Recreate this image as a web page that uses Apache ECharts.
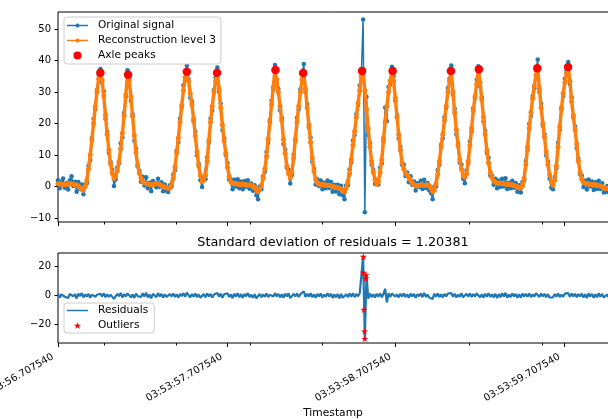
<!DOCTYPE html>
<html><head><meta charset="utf-8">
<script src="https://cdn.jsdelivr.net/npm/echarts@6/dist/echarts.min.js"></script>
<style>html,body{margin:0;padding:0;background:#fff}#c{width:608px;height:419px}</style>
</head><body><div id="c"></div>
<script>
// sample spacing (seconds)
const DT = 0.01004;

const original = [
2.0,-0.6,1.5,2.5,-0.4,1.0,-1.0,2.0,3.2,0.1,
1.5,-1.7,1.4,-0.8,0.6,-2.5,0.6,1.0,6.6,8.4,
15.4,21.5,24.4,30.6,35.5,37.3,33.0,30.2,21.5,17.4,
10.6,7.8,5.4,0.1,2.2,6.0,7.3,13.7,15.6,23.4,
28.4,36.9,34.8,27.2,23.0,14.5,12.0,6.3,5.0,1.5,
3.1,0.3,2.9,-0.6,1.2,-1.5,1.7,1.2,-0.3,2.4,
-0.1,1.3,-1.5,0.6,-1.4,-1.8,0.4,0.0,3.8,5.1,
11.4,14.0,21.6,25.2,32.1,33.7,38.3,34.1,28.2,27.0,
20.7,17.4,9.9,7.2,2.0,-0.2,2.9,2.3,9.3,13.9,
21.6,24.1,30.6,34.7,37.8,30.1,26.3,17.9,15.3,10.0,
7.4,2.2,2.2,-0.9,2.1,0.0,2.3,-0.6,1.6,-0.9,
1.7,-0.1,2.0,-0.7,0.9,-1.4,0.4,-2.8,-4.1,0.0,
-0.9,3.2,4.6,10.9,13.9,21.1,27.2,30.7,38.6,33.3,
31.0,24.2,21.8,13.5,11.7,5.9,5.4,0.9,3.6,10.1,
14.3,21.8,24.4,30.9,35.6,38.9,30.0,26.2,18.7,15.5,
7.8,5.6,0.6,2.3,0.1,1.9,-0.9,1.2,-0.6,1.9,
-0.5,1.4,-1.7,0.5,-1.6,0.5,-2.5,0.2,-2.8,-4.1,
0.3,0.4,5.4,7.6,14.6,16.3,23.0,25.9,32.0,36.8,
53.0,-8.2,28.5,16.3,13.8,6.9,5.3,0.8,1.9,0.6,
5.9,7.3,15.4,25.1,20.7,31.6,32.5,38.0,35.0,27.2,
22.7,15.2,12.6,6.9,6.9,3.3,4.4,1.3,3.2,0.5,
1.6,-1.3,1.0,-0.2,1.8,-0.8,2.1,-0.5,1.1,-1.2,
-2.1,-4.1,0.0,0.0,5.2,6.9,13.2,15.2,22.0,24.9,
31.3,34.3,38.4,29.1,24.7,16.6,13.6,7.5,7.0,2.4,
1.0,5.1,7.3,14.3,17.4,24.9,27.9,33.9,38.2,31.8,
28.3,20.6,17.7,10.6,9.1,3.5,3.5,0.5,2.4,-0.6,
1.9,-0.1,2.4,0.0,2.6,-0.8,1.2,-0.6,1.8,-0.4,
1.1,-1.7,0.4,-1.9,1.4,1.9,8.1,11.6,19.9,22.4,
28.7,31.2,37.0,40.3,30.0,26.3,19.3,16.6,9.8,7.9,
2.4,-0.4,-0.9,3.0,5.7,13.9,17.9,25.1,28.6,34.2,
36.8,39.5,32.5,28.3,21.9,19.1,12.2,8.9,3.8,3.4,
-0.2,1.9,-1.0,2.2,0.0,1.6,-1.1,1.3,-0.8,1.8,
-0.8,1.0,-1.9,-1.7,0.1,-1.9,0.7,-1.4,0.4
];

const reconstruction = [
0.8,0.9,0.7,0.6,0.5,0.6,0.8,0.9,0.8,0.7,
0.6,0.4,0.1,-0.4,-1.0,-1.2,-0.1,1.8,5.5,10.0,
14.8,20.1,25.3,30.1,34.2,36.1,33.7,28.7,22.7,16.6,
11.6,7.2,4.2,2.5,3.3,5.0,7.8,12.0,17.0,22.5,
29.0,35.5,33.8,28.5,22.3,16.2,10.8,6.8,4.2,2.6,
1.6,1.1,1.0,0.8,0.6,0.5,0.6,0.8,0.9,0.8,
0.6,0.3,0.0,-0.2,-0.4,-0.6,-0.5,0.6,2.5,6.1,
10.6,15.4,20.5,25.7,30.5,34.6,36.4,33.5,29.5,26.0,
21.5,16.0,11.0,6.5,3.5,1.6,2.0,3.5,8.0,14.5,
20.5,25.5,30.0,33.5,36.1,31.0,25.0,19.5,14.5,10.5,
6.0,3.2,1.5,1.0,0.9,0.8,0.8,0.7,0.7,0.8,
0.6,0.5,0.4,0.5,0.4,0.1,-0.4,-0.9,-1.7,-1.0,
0.3,2.5,5.5,9.5,15.0,20.5,26.0,31.5,37.0,34.0,
30.0,25.5,21.0,15.0,10.5,6.5,4.0,2.7,4.5,9.0,
15.0,20.5,25.5,30.0,34.0,36.0,31.0,25.0,19.5,14.0,
9.0,4.8,2.2,1.2,0.8,0.6,0.5,0.6,0.4,0.4,
0.3,0.2,0.0,-0.2,-0.3,-0.4,-0.6,-0.8,-1.2,-1.8,
-0.5,1.5,4.0,8.5,13.0,17.5,22.0,26.5,30.5,35.0,
36.7,30.5,24.5,18.5,12.5,8.0,4.5,2.2,0.7,1.5,
4.5,8.5,14.5,20.5,25.5,30.0,33.5,36.7,33.5,28.0,
22.0,16.5,11.5,7.5,5.5,4.3,3.6,2.8,2.0,1.2,
0.6,0.3,0.1,0.3,0.5,0.4,0.3,0.4,0.5,0.2,
-0.6,-1.6,-1.2,0.8,3.8,8.0,12.5,16.5,21.0,25.5,
30.0,33.5,36.7,30.0,23.5,18.0,13.0,8.5,5.5,3.6,
2.9,4.0,8.0,13.0,18.5,24.0,28.5,32.5,37.2,33.0,
27.5,22.0,16.5,11.5,7.5,4.5,2.8,1.8,1.3,1.1,
1.0,1.1,0.9,0.8,0.8,0.7,0.6,0.5,0.5,0.3,
0.1,-0.1,-0.4,-0.5,0.2,2.5,7.0,12.5,18.5,23.5,
28.0,32.0,35.5,37.5,31.0,25.0,20.0,15.5,11.0,7.0,
3.8,1.5,0.4,2.0,6.5,12.5,19.0,24.5,29.5,33.0,
36.0,37.9,33.5,27.0,22.5,18.0,13.5,8.0,4.5,2.2,
1.3,1.0,0.8,0.8,0.7,0.6,0.5,0.5,0.4,0.3,
0.1,-0.1,-0.5,-0.7,-0.6,-0.4,-0.5,-0.6,-0.5
];

const residuals = [
1.2,-1.5,0.8,1.9,-0.9,0.4,-1.8,1.1,2.4,-0.6,
0.9,-2.1,1.3,-0.4,1.6,-1.3,0.7,-0.8,1.1,-1.6,
0.6,1.4,-0.9,0.5,1.3,1.2,-0.7,1.5,-1.2,0.8,
-1.0,0.6,1.2,-2.4,-1.1,1.0,-0.5,1.7,-1.4,0.9,
-0.6,1.4,1.0,-1.3,0.7,-1.7,1.2,-0.5,0.8,-1.1,
1.5,-0.8,1.9,-1.4,0.6,-2.0,1.1,0.4,-1.2,1.6,
-0.7,1.0,-1.5,0.8,-1.0,-1.2,0.9,-0.6,1.3,-1.0,
0.8,-1.4,1.1,-0.5,1.6,-0.9,1.9,0.6,-1.3,1.0,
-0.8,1.4,-1.1,0.7,-1.5,-1.8,0.9,-1.2,1.3,-0.6,
1.1,-1.4,0.6,1.2,1.7,-0.9,1.3,-1.6,0.8,-0.5,
1.4,-1.0,0.7,-1.9,1.2,-0.8,1.5,-1.3,0.9,-1.7,
1.1,-0.6,1.6,-1.2,0.5,-1.5,0.8,-1.9,-2.4,1.0,
-1.2,0.7,-0.9,1.4,-1.1,0.6,1.2,-0.8,1.6,-0.7,
1.0,-1.3,0.8,-1.5,1.2,-0.6,1.4,-1.8,-0.9,1.1,
-0.7,1.3,-1.1,0.9,1.6,2.9,-1.0,1.2,-0.8,1.5,
-1.2,0.8,-1.6,1.1,-0.7,1.3,-1.4,0.6,-1.0,1.5,
-0.8,1.2,-1.7,0.7,-1.3,0.9,-1.9,1.0,-1.6,-2.3,
0.8,-1.1,1.4,-0.9,1.6,-1.2,1.0,-0.6,1.5,1.8,
26.6,-29.7,14.0,-2.2,1.3,-1.1,0.8,-1.4,1.2,-0.9,
1.4,-1.2,0.9,4.6,-4.8,1.6,-1.0,1.3,1.5,-0.8,
0.7,-1.3,1.1,-0.6,1.4,-1.0,0.8,-1.5,1.2,-0.7,
1.0,-1.6,0.9,-0.5,1.3,-1.2,1.8,-0.9,0.6,-1.4,
-1.5,-2.5,1.2,-0.8,1.4,-1.1,0.7,-1.3,1.0,-0.6,
1.3,0.8,1.7,-0.9,1.2,-1.4,0.6,-1.0,1.5,-1.2,
-1.9,1.1,-0.7,1.3,-1.1,0.9,-0.6,1.4,1.0,-1.2,
0.8,-1.4,1.2,-0.9,1.6,-1.0,0.7,-1.3,1.1,-1.7,
0.9,-1.2,1.5,-0.8,1.8,-1.5,0.6,-1.1,1.3,-0.7,
1.0,-1.6,0.8,-1.4,1.2,-0.6,1.1,-0.9,1.4,-1.1,
0.7,-0.8,1.5,2.8,-1.0,1.3,-0.7,1.1,-1.2,0.9,
-1.4,-1.9,-1.3,1.0,-0.8,1.4,-1.1,0.6,-0.9,1.2,
0.8,1.6,-1.0,1.3,-0.6,1.1,-1.3,0.9,-0.7,1.2,
-1.5,0.9,-1.8,1.4,-0.7,1.0,-1.6,0.8,-1.2,1.5,
-0.9,1.1,-1.4,-1.0,0.7,-1.5,1.2,-0.8,0.9
];

const peakTimes  = [0.251, 0.415, 0.763, 0.942, 1.288, 1.452, 1.801, 1.982, 2.327, 2.493, 2.839, 3.021];
const peakValues = [36.1, 35.5, 36.4, 36.1, 37.0, 36.0, 36.7, 36.7, 36.7, 37.2, 37.5, 37.9];

const outlierTimes  = [1.808, 1.809, 1.825, 1.824, 1.812, 1.816, 1.817];
const outlierValues = [26.6, 15.6, 14.0, 11.7, -9.7, -24.6, -29.7];

const xTickValues = [0, 1, 2, 3];
const xTickLabels = ['03:53:56.707540', '03:53:57.707540', '03:53:58.707540', '03:53:59.707540'];
const xMinorTicks = [0.271, 0.702, 1.136, 1.567, 2.434, 2.866];
const topYTicks = [-10, 0, 10, 20, 30, 40, 50];
const bottomYTicks = [-20, 0, 20];

const XMAX = (original.length - 1) * DT;
const pairs = arr => arr.map((v, i) => [i * DT, v]);
const zip = (a, b) => a.map((v, i) => [v, b[i]]);
const minus = v => String(v).replace('-', '\u2212');
const FONT = 'DejaVu Sans';
const STAR = 'path://M0,-1L0.2245,-0.309L0.951,-0.309L0.363,0.118L0.588,0.809L0,0.382L-0.588,0.809L-0.363,0.118L-0.951,-0.309L-0.2245,-0.309Z';
const LINE_DOT = 'path://M0,3.75H21V5.25H0Z M9.7,2.6H11.3L12.4,3.7V5.3L11.3,6.4H9.7L8.6,5.3V3.7Z';
const LINE_ONLY = 'path://M0,3.75H21V5.25H0Z';

function xAx(grid, ticks, len, withLabels) {
  return {
    type: 'value', gridIndex: grid, min: 0, max: XMAX, position: 'bottom',
    axisLine: { show: false, onZero: false }, splitLine: { show: false },
    axisTick: { show: true, customValues: ticks, length: len, lineStyle: { color: '#000', width: 1 } },
    axisLabel: withLabels ? {
      show: true, customValues: xTickValues, showMinLabel: true, showMaxLabel: true,
      formatter: v => xTickLabels[xTickValues.indexOf(Math.round(v))],
      rotate: 30, align: 'right', verticalAlign: 'bottom', margin: 16,
      fontSize: 10, color: '#000', fontFamily: FONT, padding: [0, 3, 0, 0]
    } : { show: false }
  };
}
function yAx(grid, min, max, ticks) {
  return {
    type: 'value', gridIndex: grid, min: min, max: max,
    axisLine: { show: false, onZero: false }, splitLine: { show: false },
    axisTick: { show: true, customValues: ticks, length: 3.5, lineStyle: { color: '#000', width: 1 } },
    axisLabel: { customValues: ticks, formatter: minus, margin: 7, fontSize: 10, color: '#000', fontFamily: FONT }
  };
}

const chart = echarts.init(document.getElementById('c'), null, { renderer: 'canvas' });
chart.setOption({
  animation: false,
  textStyle: { fontFamily: FONT },
  grid: [
    { left: 58, top: 12, width: 556, height: 210, show: true, borderColor: '#000', borderWidth: 1, backgroundColor: 'transparent', containLabel: false, outerBoundsMode: 'none' },
    { left: 58, top: 253, width: 556, height: 90, show: true, borderColor: '#000', borderWidth: 1, backgroundColor: 'transparent', containLabel: false, outerBoundsMode: 'none' }
  ],
  xAxis: [
    xAx(0, xTickValues, 4, false),
    xAx(0, xMinorTicks, 2.5, false),
    xAx(1, xTickValues, 4, true),
    xAx(1, xMinorTicks, 2.5, false)
  ],
  yAxis: [
    yAx(0, -11.3, 55.4, topYTicks),
    yAx(1, -32.6, 29.1, bottomYTicks)
  ],
  legend: [
    {
      data: [
        { name: 'Original signal', icon: LINE_DOT },
        { name: 'Reconstruction level 3', icon: LINE_DOT },
        { name: 'Axle peaks', icon: 'circle' }
      ],
      orient: 'vertical', left: 64, top: 17, itemWidth: 21, itemHeight: 8, itemGap: 4,
      padding: [3, 5, 3, 3], backgroundColor: 'rgba(255,255,255,0.8)', borderColor: '#cccccc',
      borderWidth: 1, borderRadius: 3, selectedMode: false,
      textStyle: { fontSize: 10.6, color: '#000', fontFamily: FONT, padding: [0, 0, 0, 5] }
    },
    {
      data: [
        { name: 'Residuals', icon: LINE_ONLY },
        { name: 'Outliers', icon: STAR }
      ],
      orient: 'vertical', left: 64, top: 303, itemWidth: 21, itemHeight: 7, itemGap: 4,
      padding: [2, 6, 2, 3], backgroundColor: 'rgba(255,255,255,0.8)', borderColor: '#cccccc',
      borderWidth: 1, borderRadius: 3, selectedMode: false,
      textStyle: { fontSize: 10.6, color: '#000', fontFamily: FONT, padding: [0, 0, 0, 5] }
    }
  ],
  graphic: [
    { type: 'text', x: 333, y: 243, style: { text: 'Standard deviation of residuals = 1.20381', fill: '#000', font: '12.8px "DejaVu Sans"', align: 'center', verticalAlign: 'middle' } },
    { type: 'text', x: 333, y: 413, style: { text: 'Timestamp', fill: '#000', font: '10.7px "DejaVu Sans"', align: 'center', verticalAlign: 'middle' } }
  ],
  series: [
    {
      name: 'Original signal', type: 'line', xAxisIndex: 0, yAxisIndex: 0, data: pairs(original),
      symbol: 'circle', symbolSize: 4.5, showSymbol: true, showAllSymbol: true,
      lineStyle: { color: '#1f77b4', width: 1.5 }, itemStyle: { color: '#1f77b4' }, z: 2
    },
    {
      name: 'Reconstruction level 3', type: 'line', xAxisIndex: 0, yAxisIndex: 0, data: pairs(reconstruction),
      symbol: 'circle', symbolSize: 5, showSymbol: true, showAllSymbol: true,
      lineStyle: { color: '#ff7f0e', width: 3.5 }, itemStyle: { color: '#ff7f0e' }, z: 3
    },
    {
      name: 'Axle peaks', type: 'scatter', xAxisIndex: 0, yAxisIndex: 0, data: zip(peakTimes, peakValues),
      symbol: 'circle', symbolSize: 8.5, itemStyle: { color: '#ff0000', opacity: 1 }, z: 4
    },
    {
      name: 'Residuals', type: 'line', xAxisIndex: 2, yAxisIndex: 1, data: pairs(residuals),
      symbol: 'none', lineStyle: { color: '#1f77b4', width: 2.2 }, itemStyle: { color: '#1f77b4' }, z: 2
    },
    {
      name: 'Outliers', type: 'scatter', xAxisIndex: 2, yAxisIndex: 1, data: zip(outlierTimes, outlierValues),
      symbol: STAR, symbolSize: 7, itemStyle: { color: '#ff0000', opacity: 1 }, z: 4
    }
  ]
});
</script>
</body></html>
